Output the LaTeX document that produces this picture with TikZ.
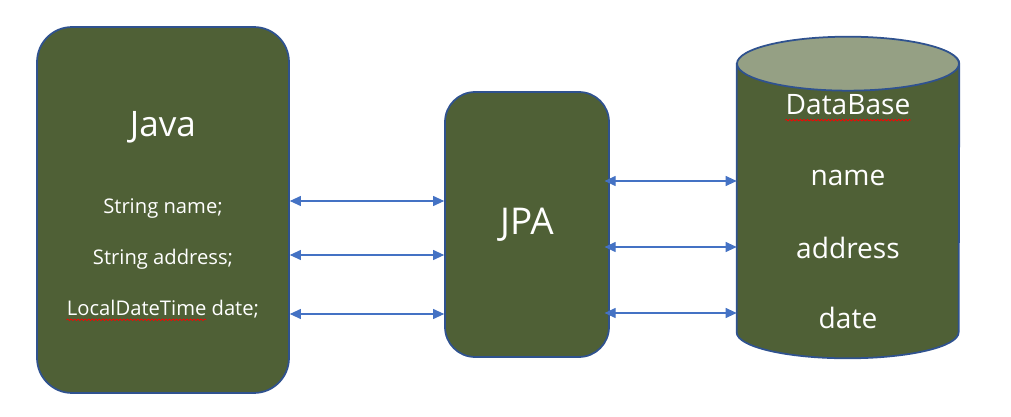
\documentclass[tikz,border=0pt]{standalone}
\usepackage{fontspec}
\setmainfont{Open Sans}
\usetikzlibrary{arrows.meta,positioning,calc,decorations.pathmorphing}
\definecolor{boxgreen}{RGB}{79,96,54}
\definecolor{capgreen}{RGB}{149,160,132}
\definecolor{edgeblue}{RGB}{47,82,143}
\definecolor{linkblue}{RGB}{68,114,196}
\newlength{\markwidth}
\AtBeginDocument{\settowidth{\markwidth}{\fontsize{11.5}{14}\selectfont LocalDateTime}}

\begin{document}
\begin{tikzpicture}[
    x=0.02cm, y=0.02cm,
    box/.style={draw=edgeblue, line width=1pt, fill=boxgreen, rounded corners=0.7cm},
    field/.style={text=white, inner sep=0pt, font=\fontsize{11.5}{14}\selectfont},
    heading/.style={text=white, inner sep=0pt, font=\fontsize{20}{24}\selectfont},
    column/.style={text=white, inner sep=0pt, font=\fontsize{16}{19}\selectfont},
    spell/.style={draw=red, line width=0.4pt, decorate, decoration={snake, amplitude=0.45pt, segment length=2pt}},
    link/.style={{Triangle[length=0.22cm,width=0.2cm]}-{Triangle[length=0.22cm,width=0.2cm]}, draw=linkblue, line width=0.6pt}
  ]
  \useasboundingbox (0,0) rectangle (1011,416);

  % Java side
  \node (java) [box, minimum width=5.04cm, minimum height=7.32cm] at (163,206) {};
  \node (jtitle) [heading] at (163,289) {Java};
  \node (jname) [field] at (163,207) {String name;};
  \node (jaddr) [field] at (163,157) {String address;};
  \node (jdate) [field] at (163,107) {LocalDateTime date;};
  \draw[spell] ([yshift=-2.5pt]jdate.base west) -- ([yshift=-2.5pt,xshift=\markwidth]jdate.base west);

  % JPA in the middle
  \node (jpa) [box, rounded corners=0.6cm, minimum width=3.28cm, minimum height=5.3cm] at (527,191.5) {};
  \node (jpatitle) [heading, font=\fontsize{21}{25}\selectfont] at (527,191) {JPA};

  % database cylinder
  \node (db) [minimum width=4.44cm, minimum height=5.36cm, inner sep=0pt] at (848,218) {};
  \draw[draw=edgeblue, line width=1pt, fill=boxgreen]
    (db.north west) -- (db.south west)
    arc[start angle=180, end angle=360, x radius=2.22cm, y radius=0.52cm]
    -- (db.north east)
    arc[start angle=0, end angle=180, x radius=2.22cm, y radius=0.52cm] -- cycle;
  \draw[draw=edgeblue, line width=1pt, fill=capgreen] (db.north) ellipse[x radius=2.22cm, y radius=0.54cm];
  \node (dbtitle) [column] at (848,311) {DataBase};
  \draw[spell] ([yshift=-3pt]dbtitle.base west) -- ([yshift=-3pt]dbtitle.base east);
  \node (dbname) [column] at (848,238) {name};
  \node (dbaddr) [column] at (848,168) {address};
  \node (dbdate) [column] at (848,98) {date};

  % links
  \draw[link] (java.east |- 0,215) -- (jpa.west |- 0,215);
  \draw[link] (java.east |- 0,161) -- (jpa.west |- 0,161);
  \draw[link] (java.east |- 0,102) -- (jpa.west |- 0,102);
  \draw[link] ([xshift=-3]jpa.east |- 0,235) -- (db.west |- 0,235);
  \draw[link] ([xshift=-3]jpa.east |- 0,169) -- (db.west |- 0,169);
  \draw[link] ([xshift=-3]jpa.east |- 0,103) -- (db.west |- 0,103);
\end{tikzpicture}
\end{document}
